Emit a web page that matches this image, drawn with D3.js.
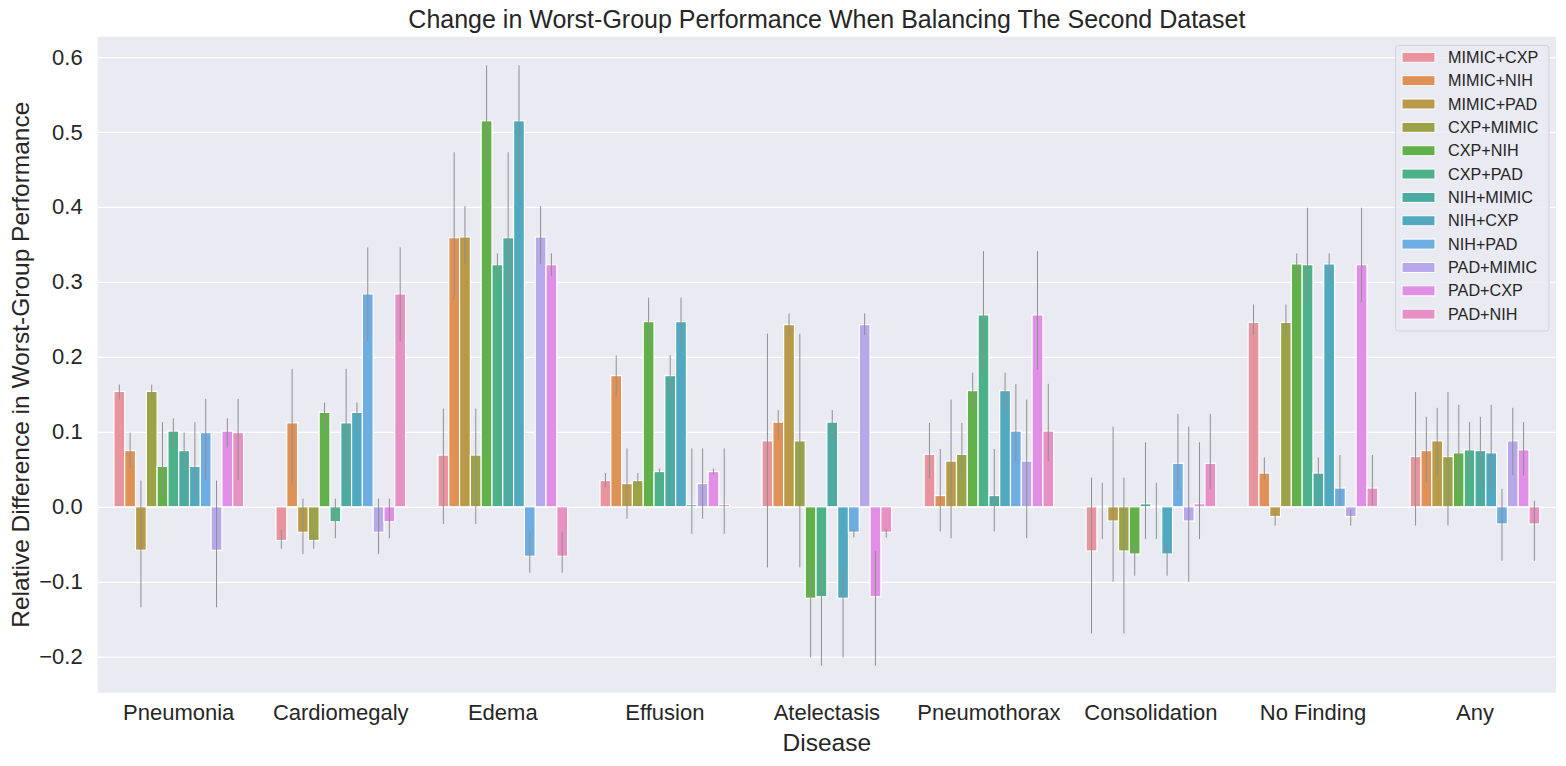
<!DOCTYPE html>
<html><head><meta charset="utf-8">
<script src="https://cdn.jsdelivr.net/npm/d3@7"></script>
<style>
html,body{margin:0;padding:0;background:#fff;}
svg{display:block;font-family:"Liberation Sans",Arial,sans-serif;}
</style></head>
<body>
<svg id="chart" width="1566" height="766"></svg>
<script>
const diseases = ["Pneumonia","Cardiomegaly","Edema","Effusion","Atelectasis","Pneumothorax","Consolidation","No Finding","Any"];
const seriesNames = ["MIMIC+CXP","MIMIC+NIH","MIMIC+PAD","CXP+MIMIC","CXP+NIH","CXP+PAD","NIH+MIMIC","NIH+CXP","NIH+PAD","PAD+MIMIC","PAD+CXP","PAD+NIH"];
const seriesColors = ["#E8949F","#E09256","#B99A48","#9CA346","#62B04A","#4DB18A","#4DAAA0","#50A9BE","#6EADE2","#B7A8EA","#E08EE6","#E690C4"];
const yTicks = [-0.2,-0.1,0.0,0.1,0.2,0.3,0.4,0.5,0.6];

// rows: diseases, columns: series
const barMeans = [
  [0.154, 0.075,-0.058, 0.154, 0.054, 0.101, 0.075, 0.054, 0.099,-0.058, 0.101, 0.099],
  [-0.045,0.112,-0.034,-0.045, 0.126,-0.020, 0.112, 0.126, 0.284,-0.034,-0.020, 0.284],
  [0.069, 0.359, 0.360, 0.069, 0.515, 0.323, 0.359, 0.515,-0.066, 0.360, 0.323,-0.066],
  [0.035, 0.175, 0.031, 0.035, 0.247, 0.047, 0.175, 0.247, 0.003, 0.031, 0.047, 0.003],
  [0.088, 0.113, 0.243, 0.088,-0.122,-0.120, 0.113,-0.122,-0.034, 0.243,-0.120,-0.034],
  [0.070, 0.015, 0.061, 0.070, 0.155, 0.256, 0.015, 0.155, 0.101, 0.061, 0.256, 0.101],
  [-0.059,0.001,-0.019,-0.059,-0.063, 0.004, 0.001,-0.063, 0.058,-0.019, 0.004, 0.058],
  [0.246, 0.045,-0.013, 0.246, 0.324, 0.323, 0.045, 0.324, 0.025,-0.013, 0.323, 0.025],
  [0.067, 0.075, 0.088, 0.067, 0.072, 0.076, 0.075, 0.072,-0.023, 0.088, 0.076,-0.023]
];
const ciLow = [
  [0.143, 0.052,-0.134, 0.143, 0.013, 0.079, 0.052, 0.013, 0.036,-0.134, 0.079, 0.036],
  [-0.056,0.031,-0.063,-0.056, 0.103,-0.042, 0.031, 0.103, 0.221,-0.063,-0.042, 0.221],
  [-0.023,0.276, 0.324,-0.023, 0.459, 0.309, 0.276, 0.418,-0.088, 0.324, 0.308,-0.088],
  [0.026, 0.147,-0.016, 0.029, 0.213, 0.044, 0.147, 0.213,-0.036,-0.016, 0.043,-0.036],
  [-0.081,0.090, 0.229,-0.081,-0.201,-0.212, 0.090,-0.201,-0.041, 0.229,-0.212,-0.041],
  [0.038,-0.033,-0.042, 0.038, 0.126, 0.183,-0.033, 0.126, 0.061,-0.042, 0.183, 0.061],
  [-0.169,-0.043,-0.100,-0.169,-0.092,-0.043,-0.043,-0.092, 0.024,-0.100,-0.043, 0.024],
  [0.229, 0.036,-0.025, 0.229, 0.304, 0.273, 0.036, 0.304, 0.002,-0.025, 0.273, 0.002],
  [-0.025,0.032, 0.042,-0.025, 0.020, 0.042, 0.032, 0.020,-0.072, 0.042, 0.042,-0.072]
];
const ciHigh = [
  [0.163, 0.099, 0.035, 0.163, 0.113, 0.118, 0.099, 0.113, 0.144, 0.035, 0.118, 0.144],
  [-0.031,0.184, 0.011,-0.031, 0.139, 0.011, 0.184, 0.139, 0.346, 0.011, 0.011, 0.346],
  [0.131, 0.473, 0.401, 0.131, 0.589, 0.338, 0.473, 0.589,-0.034, 0.401, 0.338,-0.034],
  [0.045, 0.202, 0.078, 0.045, 0.279, 0.051, 0.202, 0.279, 0.078, 0.078, 0.051, 0.078],
  [0.231, 0.129, 0.258, 0.231,-0.083,-0.059, 0.129,-0.083,-0.030, 0.258,-0.059,-0.030],
  [0.112, 0.077, 0.143, 0.112, 0.179, 0.341, 0.077, 0.179, 0.164, 0.143, 0.341, 0.164],
  [0.039, 0.032, 0.107, 0.039,-0.049, 0.086, 0.032,-0.049, 0.124, 0.107, 0.086, 0.124],
  [0.270, 0.066,-0.004, 0.270, 0.338, 0.399, 0.066, 0.338, 0.069,-0.004, 0.399, 0.069],
  [0.153, 0.120, 0.132, 0.153, 0.136, 0.113, 0.120, 0.136, 0.024, 0.132, 0.113, 0.008]
];

const svg = d3.select("#chart");
const plotL = 97.7, plotR = 1556, plotT = 36.7, plotB = 692.7;
const textColor = "#262626";

const x0 = d3.scaleBand().domain(diseases).range([plotL, plotR]).paddingInner(0.2).paddingOuter(0.1);
const x1 = d3.scaleBand().domain(seriesNames).range([0, x0.bandwidth()]).padding(0);
const y = d3.scaleLinear().domain([-0.248, 0.6271]).range([plotB, plotT]);
const color = d3.scaleOrdinal().domain(seriesNames).range(seriesColors);

// axes background
svg.append("rect").attr("x", plotL).attr("y", plotT).attr("width", plotR-plotL).attr("height", plotB-plotT).attr("fill", "#EAEAF2");

// grid via axis
const yAxis = d3.axisLeft(y).tickValues(yTicks).tickSize(-(plotR-plotL)).tickPadding(15)
  .tickFormat(d => d3.format(".1f")(d).replace("-", "\u2212").replace("\u22120.0", "0.0"));
const gy = svg.append("g").attr("transform", `translate(${plotL},0)`).call(yAxis);
gy.select(".domain").remove();
gy.selectAll(".tick line").attr("stroke", "#ffffff").attr("stroke-width", 1.25);
gy.selectAll(".tick text").attr("fill", textColor).attr("font-size", 22).attr("font-family", "Liberation Sans, Arial, sans-serif");

const xAxis = d3.axisBottom(x0).tickSize(0).tickPadding(12);
const gx = svg.append("g").attr("transform", `translate(0,${plotB})`).call(xAxis);
gx.select(".domain").remove();
gx.selectAll(".tick text").attr("fill", textColor).attr("font-size", 22).attr("font-family", "Liberation Sans, Arial, sans-serif");

// bars
const rows = [];
diseases.forEach((d, i) => seriesNames.forEach((s, j) => rows.push({disease: d, series: s, v: barMeans[i][j], lo: ciLow[i][j], hi: ciHigh[i][j]})));

const g = svg.append("g");
g.selectAll("rect.bar").data(rows).join("rect").attr("class", "bar")
  .attr("x", r => x0(r.disease) + x1(r.series))
  .attr("width", x1.bandwidth())
  .attr("y", r => Math.min(y(r.v), y(0)))
  .attr("height", r => Math.abs(y(r.v) - y(0)))
  .attr("fill", r => color(r.series))
  .attr("stroke", "#ffffff").attr("stroke-width", 1.2);

g.selectAll("line.err").data(rows).join("line").attr("class", "err")
  .attr("x1", r => x0(r.disease) + x1(r.series) + x1.bandwidth()/2)
  .attr("x2", r => x0(r.disease) + x1(r.series) + x1.bandwidth()/2)
  .attr("y1", r => y(r.lo)).attr("y2", r => y(r.hi))
  .attr("stroke", "#8f8f8f").attr("stroke-width", 1);

// title & labels
svg.append("text").attr("x", (plotL+plotR)/2).attr("y", 28).attr("text-anchor", "middle")
  .attr("font-size", 25).attr("fill", textColor).text("Change in Worst-Group Performance When Balancing The Second Dataset");
svg.append("text").attr("x", (plotL+plotR)/2).attr("y", 751).attr("text-anchor", "middle")
  .attr("font-size", 24.5).attr("fill", textColor).text("Disease");
svg.append("text").attr("transform", `translate(29,${(plotT+plotB)/2}) rotate(-90)`).attr("text-anchor", "middle")
  .attr("font-size", 24.5).attr("fill", textColor).text("Relative Difference in Worst-Group Performance");

// legend
const lg = svg.append("g");
lg.append("rect").attr("x", 1395.5).attr("y", 45.5).attr("width", 153.5).attr("height", 285.5).attr("rx", 3)
  .attr("fill", "rgba(234,234,242,0.8)").attr("stroke", "#d2d2d8").attr("stroke-width", 1);
seriesNames.forEach((s, k) => {
  const cy = 57.3 + k * 23.35;
  lg.append("rect").attr("x", 1402).attr("y", cy - 5).attr("width", 33).attr("height", 10)
    .attr("fill", color(s)).attr("stroke", "#ffffff").attr("stroke-width", 1);
  lg.append("text").attr("x", 1448).attr("y", cy).attr("dy", "0.35em").attr("font-size", 16.2)
    .attr("fill", textColor).text(s);
});
</script>
</body></html>
